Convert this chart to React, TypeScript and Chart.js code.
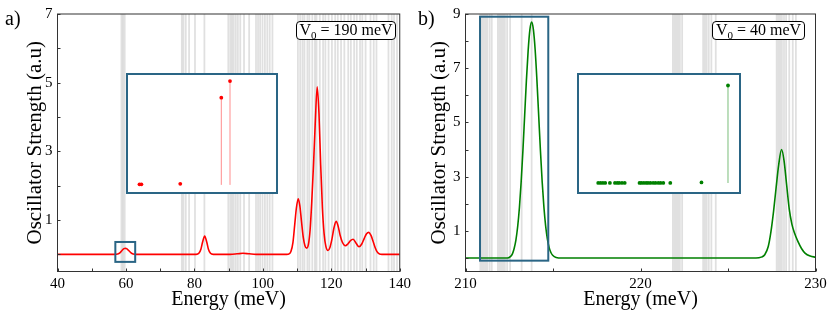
import React, { useEffect, useRef } from 'react';
import { Chart, registerables } from 'chart.js';

Chart.register(...registerables);

const SERIF = "'Liberation Serif', 'Times New Roman', Times, serif";
const BOX_COLOR = '#2a6585';

// ---------- Panel a (V0 = 190 meV) ----------
const energyA = [40, 56.5, 57.6, 58.3, 58.9, 59.4, 59.83, 60.3, 60.8, 61.4, 62.1, 63,
  80.5, 81.3, 81.9, 82.4, 83.0, 83.6, 84.1, 84.7, 85.5,
  90.5, 92.5, 94.2, 96, 98,
  107.0, 107.6, 108.2, 108.8, 109.3, 109.8, 110.34, 110.8, 111.3, 111.8, 112.3, 112.83,
  113.3, 113.8, 114.3, 114.8, 115.3, 115.88, 116.4, 116.9, 117.4, 117.9, 118.4, 119.03,
  119.6, 120.2, 120.8, 121.43, 122.0, 122.6, 123.2, 124.1, 124.9, 125.6, 126.39, 127.2, 128.1,
  128.9, 129.6, 130.3, 130.97, 131.6, 132.2, 132.8, 133.4, 134.1, 134.8, 140];
const strengthA = [0, 0, 0.01, 0.05, 0.12, 0.165, 0.175, 0.16, 0.11, 0.05, 0.01, 0,
  0, 0.03, 0.15, 0.36, 0.53, 0.36, 0.15, 0.03, 0,
  0, 0.015, 0.03, 0.015, 0,
  0, 0.01, 0.08, 0.35, 0.85, 1.35, 1.62, 1.42, 0.95, 0.5, 0.25, 0.18,
  0.28, 0.7, 1.55, 2.6, 3.8, 4.88, 4.1, 2.6, 1.35, 0.6, 0.24, 0.11,
  0.2, 0.45, 0.78, 0.96, 0.82, 0.55, 0.36, 0.25, 0.31, 0.4, 0.44, 0.33, 0.22,
  0.3, 0.46, 0.6, 0.64, 0.55, 0.38, 0.2, 0.07, 0.01, 0, 0];
const levelsA = [58.68, 59.14, 59.63,
  76.33, 76.82, 77.48, 78.45, 80.17, 82.92,
  89.91, 90.5, 91.0, 91.5, 92.1, 92.7, 93.4, 94.5, 96.0,
  98.0, 98.6, 99.2, 99.9, 100.6, 101.3, 102.0, 102.8,
  110.24, 110.91, 111.58, 112.15, 113.02, 113.59, 114.45, 115.21, 115.69, 116.64, 117.6, 118.27,
  119.2, 120.18, 121.13, 121.9, 122.85, 123.81, 124.95, 125.72, 126.67, 127.44, 128.39, 129.06,
  130.02, 131.45, 132.4, 133.2, 136.7, 137.66, 138.33, 139.2];
const xTicksA = [40, 50, 60, 70, 80, 90, 100, 110, 120, 130, 140];
const xLabelsA = [40, 60, 80, 100, 120, 140];
const yTicksA = [0, 1, 2, 3, 4, 5, 6, 7];
const yLabelsA = [1, 3, 5, 7];
const boxEnergyA = [56.9, 62.7];
const boxStrengthA = [-0.22, 0.36];
const insetEnergyA = [57.21, 57.29, 58.9, 60.6, 60.96];
const insetStrengthA = [0.0005, 0.0005, 0.001, 0.084, 0.1];

// ---------- Panel b (V0 = 40 meV) ----------
const energyB = [210, 212.4,
  212.58, 212.68, 212.78, 212.88, 212.98, 213.08, 213.18, 213.28, 213.38, 213.48, 213.58, 213.68,
  213.78, 213.88, 213.98, 214.08, 214.18, 214.28, 214.38, 214.48, 214.58, 214.68, 214.78, 214.88, 214.98,
  215.18, 215.5,
  226.6, 226.9, 227.1, 227.3, 227.45, 227.6, 227.75, 227.9, 228.06, 228.2, 228.35, 228.5, 228.65,
  228.8, 229.0, 229.2, 229.4, 229.7, 230];
const strengthB = [0, 0,
  0.06, 0.15, 0.35, 0.66, 1.15, 1.85, 2.8, 3.95, 5.25, 6.55, 7.65, 8.42,
  8.7, 8.42, 7.68, 6.57, 5.28, 3.98, 2.82, 1.88, 1.18, 0.69, 0.38, 0.2, 0.1,
  0.02, 0,
  0, 0.03, 0.12, 0.42, 0.95, 1.7, 2.6, 3.45, 4.0, 3.6, 2.7, 1.8, 1.25,
  0.92, 0.6, 0.35, 0.18, 0.07, 0.03];
const levelsB = [210.85, 210.95, 211.05, 211.15, 211.25, 211.38, 211.5,
  211.85, 211.95, 212.05, 212.15, 212.25, 212.38, 212.55, 213.21, 213.78,
  221.85, 221.95, 222.05, 222.15, 222.25, 222.38,
  223.58, 223.68, 223.78, 223.9, 224.05, 224.3,
  227.78, 227.88, 227.98, 228.08, 228.2, 228.32, 228.5, 228.7, 228.88];
const xTicksB = [210, 215, 220, 225, 230];
const xLabelsB = [210, 220, 230];
const yTicksB = [0, 1, 2, 3, 4, 5, 6, 7, 8, 9];
const yLabelsB = [1, 3, 5, 7, 9];
const boxEnergyB = [210.83, 214.73];
const boxStrengthB = [-0.1, 8.9];
const insetEnergyB = [211.22, 211.28, 211.34, 211.40, 211.52, 211.65, 211.71, 211.76, 211.83, 211.90,
  212.28, 212.33, 212.39, 212.45, 212.50, 212.56, 212.63, 212.69, 212.76, 212.82, 212.89,
  213.07, 213.87, 214.55];
const insetStrengthB = [0.01, 0.01, 0.01, 0.01, 0.01, 0.01, 0.01, 0.01, 0.01, 0.01,
  0.01, 0.01, 0.01, 0.01, 0.01, 0.01, 0.01, 0.01, 0.01, 0.01, 0.01,
  0.01, 0.06, 8.7];

type MainParams = {
  E: number[]; S: number[]; levels: number[]; color: string;
  xMin: number; xMax: number; yMin: number; yMax: number;
  xTicks: number[]; xLabels: number[]; yTicks: number[]; yLabels: number[];
  boxE: number[]; boxS: number[];
  yAxisWidth: number; padRight: number; yTitlePad: number;
};

function makeMain(canvas: HTMLCanvasElement, p: MainParams) {
  const deco = {
    id: 'deco',
    beforeDatasetsDraw(chart: any) {
      const { ctx, chartArea: ca, scales } = chart;
      const x = scales.x;
      ctx.save();
      ctx.beginPath();
      ctx.rect(ca.left, ca.top, ca.right - ca.left, ca.bottom - ca.top);
      ctx.clip();
      ctx.strokeStyle = 'rgba(0,0,0,0.12)';
      ctx.lineWidth = 1.8;
      for (const e of p.levels) {
        const px = x.getPixelForValue(e);
        ctx.beginPath();
        ctx.moveTo(px, ca.top);
        ctx.lineTo(px, ca.bottom);
        ctx.stroke();
      }
      ctx.restore();
    },
    afterDatasetsDraw(chart: any) {
      const { ctx, scales } = chart;
      const x = scales.x, y = scales.y;
      const x0 = x.getPixelForValue(p.boxE[0]);
      const x1 = x.getPixelForValue(p.boxE[1]);
      const y0 = y.getPixelForValue(p.boxS[1]);
      const y1 = y.getPixelForValue(p.boxS[0]);
      ctx.save();
      ctx.strokeStyle = BOX_COLOR;
      ctx.lineWidth = 2;
      ctx.strokeRect(x0, y0, x1 - x0, y1 - y0);
      ctx.restore();
    },
    afterDraw(chart: any) {
      const { ctx, chartArea: ca, scales } = chart;
      ctx.save();
      ctx.strokeStyle = '#333';
      ctx.lineWidth = 1;
      ctx.strokeRect(ca.left, ca.top, ca.right - ca.left, ca.bottom - ca.top);
      ctx.beginPath();
      for (const t of scales.x.ticks) {
        const px = Math.round(scales.x.getPixelForValue(t.value)) + 0.5;
        ctx.moveTo(px, ca.bottom);
        ctx.lineTo(px, ca.bottom - 3);
      }
      for (const t of scales.y.ticks) {
        const py = Math.round(scales.y.getPixelForValue(t.value)) + 0.5;
        ctx.moveTo(ca.left, py);
        ctx.lineTo(ca.left + 3, py);
      }
      ctx.stroke();
      ctx.restore();
    },
  };

  return new Chart(canvas, {
    type: 'line',
    data: {
      datasets: [{
        data: p.E.map((e, i) => ({ x: e, y: p.S[i] })),
        borderColor: p.color,
        borderWidth: 1.6,
        pointRadius: 0,
        cubicInterpolationMode: 'monotone',
        fill: false,
      }],
    },
    options: {
      animation: false,
      responsive: false,
      maintainAspectRatio: false,
      devicePixelRatio: 1,
      events: [],
      layout: { padding: { left: 0, right: p.padRight, top: 11.5, bottom: 0 } },
      plugins: { legend: { display: false }, tooltip: { enabled: false } },
      scales: {
        x: {
          type: 'linear', min: p.xMin, max: p.xMax,
          afterBuildTicks: (s: any) => { s.ticks = p.xTicks.map((v) => ({ value: v })); },
          afterFit: (s: any) => { s.height = 43.5; },
          ticks: {
            callback: (v: any) => (p.xLabels.includes(Number(v)) ? String(v) : ''),
            autoSkip: false, maxRotation: 0, padding: 4, color: '#000',
            font: { family: SERIF, size: 15 },
          },
          grid: { display: false, drawTicks: false, tickLength: 0 },
          border: { display: false },
          title: {
            display: true, text: 'Energy (meV)', color: '#000',
            font: { family: SERIF, size: 20, lineHeight: 1 },
            padding: { top: 0, bottom: 5.75 },
          },
        },
        y: {
          type: 'linear', min: p.yMin, max: p.yMax,
          afterBuildTicks: (s: any) => { s.ticks = p.yTicks.map((v) => ({ value: v })); },
          afterFit: (s: any) => { s.width = p.yAxisWidth; },
          ticks: {
            callback: (v: any) => (p.yLabels.includes(Number(v)) ? String(v) : ''),
            autoSkip: false, padding: 5, color: '#000',
            font: { family: SERIF, size: 15 },
          },
          grid: { display: false, drawTicks: false, tickLength: 0 },
          border: { display: false },
          title: {
            display: true, text: 'Oscillator Strength (a.u)', color: '#000',
            font: { family: SERIF, size: 21, lineHeight: 1 },
            padding: { top: p.yTitlePad, bottom: 0 },
          },
        },
      },
    } as any,
    plugins: [deco],
  });
}

type InsetParams = {
  E: number[]; S: number[]; color: string; stemColor: string; stemWidth: number;
  xMin: number; xMax: number; yMin: number; yMax: number;
};

function makeInset(canvas: HTMLCanvasElement, p: InsetParams) {
  const stems = p.E.map((e, i) => ({
    type: 'line',
    data: [{ x: e, y: 0 }, { x: e, y: p.S[i] }],
    borderColor: p.stemColor,
    borderWidth: p.stemWidth,
    pointRadius: 0,
    clip: false,
  }));
  return new Chart(canvas, {
    type: 'scatter',
    data: {
      datasets: [
        ...stems,
        {
          type: 'scatter',
          data: p.E.map((e, i) => ({ x: e, y: p.S[i] })),
          backgroundColor: p.color,
          borderWidth: 0,
          pointRadius: 1.9,
          clip: false,
        },
      ],
    } as any,
    options: {
      animation: false,
      responsive: false,
      maintainAspectRatio: false,
      devicePixelRatio: 1,
      events: [],
      layout: { padding: 0 },
      plugins: { legend: { display: false }, tooltip: { enabled: false } },
      scales: {
        x: { type: 'linear', display: false, min: p.xMin, max: p.xMax },
        y: { type: 'linear', display: false, min: p.yMin, max: p.yMax },
      },
    } as any,
  });
}

const labelStyle: React.CSSProperties = {
  position: 'absolute', fontFamily: SERIF, fontSize: 20, lineHeight: '20px', color: '#000',
};

const vBoxStyle: React.CSSProperties = {
  position: 'absolute', top: 21, height: 19, boxSizing: 'border-box',
  border: '1px solid #000', borderRadius: 4, background: '#fff',
  fontFamily: SERIF, fontSize: 16, lineHeight: '14px', textAlign: 'center',
  whiteSpace: 'nowrap', color: '#000', paddingTop: 1,
};

const subStyle: React.CSSProperties = { fontSize: 11, position: 'relative', top: 4 };

export default function App() {
  const aRef = useRef<HTMLCanvasElement>(null);
  const bRef = useRef<HTMLCanvasElement>(null);
  const iaRef = useRef<HTMLCanvasElement>(null);
  const ibRef = useRef<HTMLCanvasElement>(null);

  useEffect(() => {
    const charts: Chart[] = [];
    charts.push(makeMain(aRef.current!, {
      E: energyA, S: strengthA, levels: levelsA, color: '#ff0000',
      xMin: 40, xMax: 140, yMin: -0.5, yMax: 7,
      xTicks: xTicksA, xLabels: xLabelsA, yTicks: yTicksA, yLabels: yLabelsA,
      boxE: boxEnergyA, boxS: boxStrengthA,
      yAxisWidth: 57.5, padRight: 8.5, yTitlePad: 25,
    }));
    charts.push(makeMain(bRef.current!, {
      E: energyB, S: strengthB, levels: levelsB, color: '#008000',
      xMin: 210, xMax: 230, yMin: -0.5, yMax: 9,
      xTicks: xTicksB, xLabels: xLabelsB, yTicks: yTicksB, yLabels: yLabelsB,
      boxE: boxEnergyB, boxS: boxStrengthB,
      yAxisWidth: 50.5, padRight: 15.5, yTitlePad: 14,
    }));
    charts.push(makeInset(iaRef.current!, {
      E: insetEnergyA, S: insetStrengthA, color: '#ff0000',
      stemColor: 'rgba(255,0,0,0.45)', stemWidth: 1,
      xMin: 56.9, xMax: 62.7, yMin: -0.003, yMax: 0.102,
    }));
    charts.push(makeInset(ibRef.current!, {
      E: insetEnergyB, S: insetStrengthB, color: '#008000',
      stemColor: 'rgba(0,128,0,0.35)', stemWidth: 1.5,
      xMin: 210.83, xMax: 214.73, yMin: -0.44, yMax: 9.28,
    }));
    return () => { charts.forEach((c) => c.destroy()); };
  }, []);

  return (
    <div style={{ position: 'fixed', left: 0, top: 0, width: 831, height: 315, background: '#fff', overflow: 'hidden' }}>
      <canvas ref={aRef} width={415} height={315} style={{ position: 'absolute', left: 0, top: 0, width: 415, height: 315 }} />
      <canvas ref={bRef} width={416} height={315} style={{ position: 'absolute', left: 415, top: 0, width: 416, height: 315 }} />
      <div style={{ position: 'absolute', left: 126, top: 73, width: 152, height: 121, boxSizing: 'border-box', border: `2px solid ${BOX_COLOR}`, background: '#fff' }}>
        <canvas ref={iaRef} width={148} height={117} style={{ display: 'block', width: 148, height: 117 }} />
      </div>
      <div style={{ position: 'absolute', left: 577, top: 73, width: 164, height: 121, boxSizing: 'border-box', border: `2px solid ${BOX_COLOR}`, background: '#fff' }}>
        <canvas ref={ibRef} width={160} height={117} style={{ display: 'block', width: 160, height: 117 }} />
      </div>
      <div style={{ ...labelStyle, left: 5, top: 7.5 }}>a)</div>
      <div style={{ ...labelStyle, left: 418, top: 8.2 }}>b)</div>
      <div style={{ ...vBoxStyle, left: 296, width: 100 }}>V<span style={subStyle}>0</span> = 190 meV</div>
      <div style={{ ...vBoxStyle, left: 712, width: 93 }}>V<span style={subStyle}>0</span> = 40 meV</div>
    </div>
  );
}
